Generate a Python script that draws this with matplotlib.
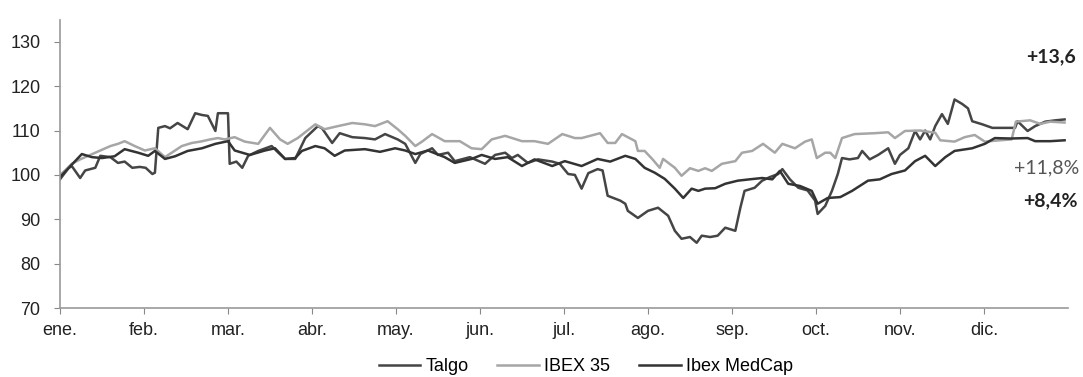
import matplotlib
matplotlib.use("Agg")
import matplotlib.pyplot as plt

# x = months since 1 Jan (0..12), y = base 100
talgo_x = [0.00, 0.10, 0.14, 0.24, 0.30, 0.42, 0.48, 0.60, 0.69, 0.77, 0.86, 0.95, 1.02, 1.10, 1.13,
           1.17, 1.25, 1.31, 1.40, 1.52, 1.61, 1.69, 1.76, 1.82, 1.85, 1.88, 2.00, 2.02, 2.10, 2.17,
           2.24, 2.36, 2.52, 2.60, 2.68, 2.80, 2.92, 3.07, 3.12, 3.24, 3.33, 3.48, 3.63, 3.75, 3.87,
           4.02, 4.11, 4.23, 4.29, 4.43, 4.50, 4.62, 4.70, 4.88, 5.06, 5.18, 5.30, 5.38, 5.45, 5.57,
           5.69, 5.86, 5.95, 6.05, 6.13, 6.21, 6.29, 6.40, 6.46, 6.52, 6.67, 6.73, 6.76, 6.88, 7.00,
           7.12, 7.24, 7.32, 7.40, 7.50, 7.58, 7.64, 7.74, 7.83, 7.92, 8.04, 8.10, 8.15, 8.27, 8.36,
           8.45, 8.55, 8.60, 8.69, 8.79, 8.90, 8.99, 9.02, 9.11, 9.19, 9.26, 9.31, 9.40, 9.50, 9.55,
           9.64, 9.74, 9.86, 9.94, 10.00, 10.10, 10.18, 10.24, 10.30, 10.36, 10.42, 10.50, 10.57,
           10.65, 10.74, 10.81, 10.86, 10.98, 11.10, 11.25, 11.37, 11.40, 11.52, 11.61, 11.73,
           11.85, 11.96]
talgo_y = [99.0, 101.5, 102.0, 99.3, 101.0, 101.6, 104.3, 104.0, 102.7, 103.0, 101.6, 101.8, 101.6, 100.2, 100.5,
           110.6, 111.0, 110.5, 111.7, 110.3, 113.9, 113.5, 113.3, 111.0, 109.9, 113.9, 113.9, 102.5, 103.0, 101.6,
           104.3, 105.4, 106.5, 105.0, 103.6, 103.6, 108.3, 111.0, 110.5, 107.2, 109.4, 108.5, 108.3, 108.0, 109.2,
           108.0, 107.0, 102.7, 104.7, 106.0, 104.5, 105.0, 103.1, 104.0, 102.5, 104.5, 105.0, 103.8, 104.5, 102.7,
           103.5, 103.0, 102.5, 100.2, 100.0, 96.9, 100.4, 101.3, 101.0, 95.3, 94.2, 93.5, 91.9, 90.3, 91.9,
           92.6, 90.8, 87.4, 85.6, 86.0, 84.7, 86.3, 86.0, 86.3, 88.1, 87.4, 92.6, 96.4, 97.1, 98.7,
           99.5, 100.2, 101.3, 99.0, 97.1, 96.5, 94.2, 91.2, 93.0, 96.4, 100.2, 103.8, 103.5, 103.8, 105.4,
           103.5, 104.5, 106.0, 102.5, 104.5, 106.0, 109.9, 108.0, 110.0, 108.0, 111.0, 113.7, 111.5,
           117.0, 116.0, 115.0, 112.1, 111.4, 110.6, 110.6, 110.6, 112.1, 109.9, 111.0, 112.0,
           112.3, 112.5]

ibex_x = [0.00, 0.06, 0.14, 0.24, 0.36, 0.48, 0.60, 0.69, 0.77, 0.89, 1.01, 1.13, 1.25, 1.37, 1.45,
          1.57, 1.67, 1.79, 1.88, 1.96, 2.08, 2.20, 2.36, 2.50, 2.62, 2.71, 2.83, 3.04, 3.15, 3.31,
          3.48, 3.63, 3.75, 3.90, 4.02, 4.11, 4.23, 4.31, 4.43, 4.58, 4.76, 4.90, 5.02, 5.14, 5.30,
          5.50, 5.65, 5.81, 5.98, 6.13, 6.21, 6.43, 6.52, 6.61, 6.69, 6.85, 6.88, 6.96, 7.05, 7.14,
          7.18, 7.32, 7.40, 7.50, 7.60, 7.68, 7.76, 7.88, 8.04, 8.12, 8.24, 8.37, 8.51, 8.60, 8.75,
          8.87, 8.95, 9.01, 9.11, 9.17, 9.23, 9.31, 9.46, 9.70, 9.86, 9.94, 10.06, 10.24, 10.42,
          10.48, 10.65, 10.77, 10.89, 11.01, 11.19, 11.33, 11.38, 11.55, 11.67, 11.79, 11.96]
ibex_y = [100.0, 101.0, 102.5, 103.5, 104.5, 105.5, 106.5, 107.0, 107.6, 106.5, 105.5, 106.0, 104.0, 105.5, 106.5,
          107.2, 107.5, 108.0, 108.3, 108.0, 108.5, 107.5, 107.0, 110.6, 108.0, 107.0, 108.3, 111.4, 110.3, 111.0,
          111.7, 111.4, 111.0, 112.1, 110.3, 108.8, 106.5, 107.5, 109.2, 107.6, 107.6, 106.0, 105.8, 108.0, 108.8,
          107.6, 107.6, 107.0, 109.2, 108.3, 108.3, 109.4, 107.2, 107.2, 109.2, 107.6, 105.4, 105.4, 103.6, 101.6,
          103.6, 101.6, 99.8, 101.5, 100.9, 101.5, 100.9, 102.5, 103.1, 105.0, 105.4, 107.0, 105.0, 107.0, 106.0,
          107.5, 108.0, 103.8, 105.0, 105.0, 103.8, 108.3, 109.2, 109.4, 109.6, 108.3, 109.9, 110.0, 109.5,
          107.8, 107.5, 108.5, 109.0, 107.5, 107.8, 108.0, 112.0, 112.3, 111.5, 112.0, 111.8]

medcap_x = [0.00, 0.10, 0.26, 0.38, 0.50, 0.65, 0.77, 0.93, 1.05, 1.13, 1.25, 1.37, 1.52, 1.69, 1.85,
            2.00, 2.08, 2.26, 2.44, 2.56, 2.68, 2.80, 2.88, 3.04, 3.15, 3.27, 3.39, 3.63, 3.81, 3.99,
            4.11, 4.23, 4.38, 4.58, 4.70, 4.90, 5.02, 5.18, 5.33, 5.50, 5.65, 5.86, 6.01, 6.21, 6.40,
            6.55, 6.73, 6.85, 6.96, 7.08, 7.20, 7.32, 7.42, 7.52, 7.60, 7.68, 7.80, 7.92, 8.07, 8.21,
            8.36, 8.48, 8.57, 8.67, 8.81, 8.95, 9.02, 9.14, 9.29, 9.43, 9.62, 9.76, 9.90, 10.06, 10.18,
            10.30, 10.42, 10.54, 10.65, 10.86, 11.01, 11.13, 11.31, 11.52, 11.61, 11.79, 11.96]
medcap_y = [99.5, 101.5, 104.7, 104.0, 103.8, 104.2, 105.8, 105.0, 104.3, 105.4, 103.6, 104.2, 105.4, 106.0, 107.0,
            107.6, 105.5, 104.5, 105.5, 106.0, 103.6, 103.8, 105.4, 106.5, 106.0, 104.3, 105.5, 105.8, 105.2, 106.0,
            105.5, 104.7, 105.5, 104.0, 102.7, 103.6, 104.5, 103.6, 104.0, 102.0, 103.5, 102.0, 103.1, 102.0, 103.6,
            103.0, 104.3, 103.6, 101.6, 100.5, 99.1, 96.9, 94.8, 96.9, 96.4, 96.9, 97.0, 98.0, 98.7, 99.0,
            99.3, 99.0, 100.9, 98.0, 97.5, 96.4, 93.5, 94.8, 95.0, 96.4, 98.7, 99.0, 100.2, 101.0, 103.1,
            104.3, 102.0, 104.0, 105.4, 106.0, 107.0, 108.3, 108.2, 108.3, 107.6, 107.6, 107.8]

months = ['ene.', 'feb.', 'mar.', 'abr.', 'may.', 'jun.', 'jul.', 'ago.', 'sep.', 'oct.', 'nov.', 'dic.']
y_ticks = [70, 80, 90, 100, 110, 120, 130]

plt.rcParams['font.family'] = ['Liberation Sans', 'DejaVu Sans']

fig = plt.figure(figsize=(10.83, 3.77), dpi=100)
ax = fig.add_axes([0.0554, 0.183, 0.9307, 0.765])

ax.plot(talgo_x, talgo_y, color='#454545', lw=1.8, label='Talgo')
ax.plot(ibex_x, ibex_y, color='#a6a6a6', lw=1.8, label='IBEX 35')
ax.plot(medcap_x, medcap_y, color='#333333', lw=1.8, label='Ibex MedCap')

ax.set_xlim(0, 12)
ax.set_ylim(70, 135)
ax.set_yticks(y_ticks)
ax.set_xticks(range(12))
ax.set_xticklabels(months)
ax.tick_params(axis='both', labelsize=13, colors='#888888', labelcolor='#222222', length=4)
ax.tick_params(axis='y', pad=10)
ax.tick_params(axis='x', pad=6)

for s in ['top', 'right']:
    ax.spines[s].set_visible(False)
for s in ['left', 'bottom']:
    ax.spines[s].set_color('#999999')
    ax.spines[s].set_linewidth(1.2)

ax.text(12.10, 126.6, '+13,6', ha='right', va='center', fontsize=14, fontweight='bold',
        family='Lato', color='#222222', clip_on=False)
ax.text(12.14, 101.6, '+11,8%', ha='right', va='center', fontsize=14,
        family='Lato', color='#555555', clip_on=False)
ax.text(12.11, 94.2, '+8,4%', ha='right', va='center', fontsize=14, fontweight='bold',
        family='Lato', color='#222222', clip_on=False)

fig.legend(loc='center', bbox_to_anchor=(0.541, 0.027), ncol=3, frameon=False, fontsize=13,
           handlelength=2.3, handletextpad=0.3, columnspacing=1.6)

fig.savefig('out.png', dpi=100)
